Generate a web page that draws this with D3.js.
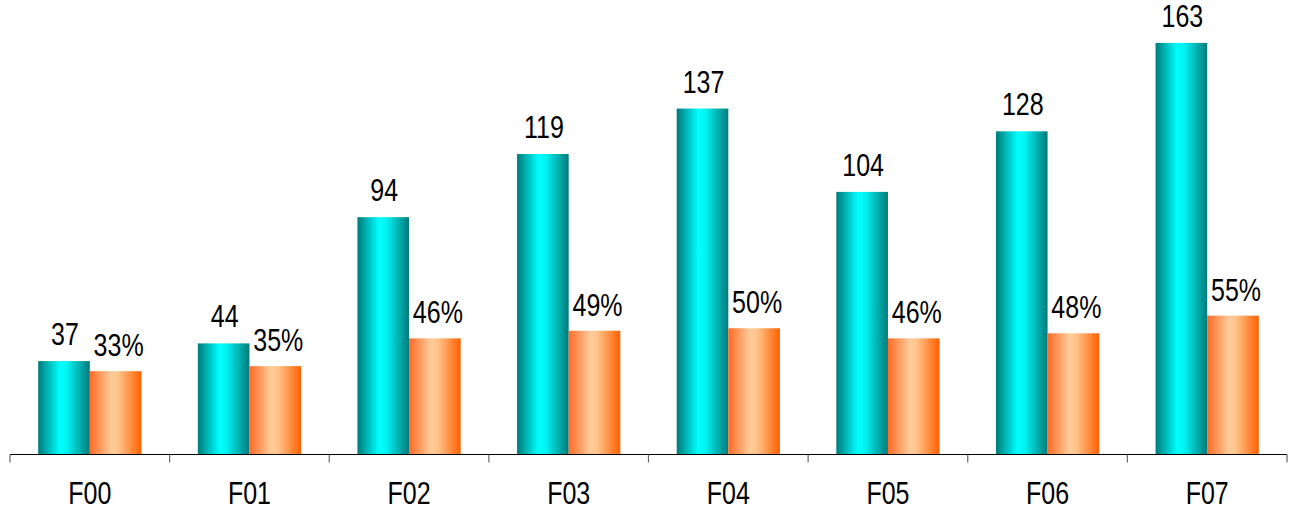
<!DOCTYPE html>
<html>
<head>
<meta charset="utf-8">
<script src="https://cdn.jsdelivr.net/npm/d3@7"></script>
<style>
  body { margin: 0; background: #fff; }
  text { font-family: "Liberation Sans", Arial, sans-serif; }
</style>
</head>
<body>
<script>
var categories = ["F00", "F01", "F02", "F03", "F04", "F05", "F06", "F07"];
var counts = [37, 44, 94, 119, 137, 104, 128, 163];
var percents = [33, 35, 46, 49, 50, 46, 48, 55];

var W = 1291, H = 515;
var baseY = 454.5;
var squeeze = 0.82; // labels in the original are set in a narrow face

var svg = d3.select('body').append('svg')
  .attr('width', W)
  .attr('height', H);

var defs = svg.append('defs');

var tealGrad = defs.append('linearGradient').attr('id', 'teal').attr('x1', '0%').attr('x2', '100%');
tealGrad.append('stop').attr('offset', '0%').attr('stop-color', '#007a7a');
tealGrad.append('stop').attr('offset', '42%').attr('stop-color', '#00ffff');
tealGrad.append('stop').attr('offset', '55%').attr('stop-color', '#00f4f4');
tealGrad.append('stop').attr('offset', '100%').attr('stop-color', '#007a7a');

var orangeGrad = defs.append('linearGradient').attr('id', 'orange').attr('x1', '0%').attr('x2', '100%');
orangeGrad.append('stop').attr('offset', '0%').attr('stop-color', '#ff6a26');
orangeGrad.append('stop').attr('offset', '42%').attr('stop-color', '#ffcc99');
orangeGrad.append('stop').attr('offset', '55%').attr('stop-color', '#ffc48c');
orangeGrad.append('stop').attr('offset', '100%').attr('stop-color', '#ff6000');

var x = d3.scaleBand().domain(categories).range([10, 1287]).paddingInner(0).paddingOuter(0);
var sub = d3.scaleBand().domain(['count', 'pct']).range([0, x.bandwidth()]).paddingInner(0).paddingOuter(0.546);
var y = d3.scaleLinear().domain([0, 180]).range([baseY, 0]);

var groups = svg.selectAll('g.cat').data(categories).enter().append('g')
  .attr('class', 'cat')
  .attr('transform', function(d) { return 'translate(' + x(d) + ',0)'; });

groups.append('rect')
  .attr('x', sub('count'))
  .attr('width', sub.bandwidth())
  .attr('y', function(d, i) { return y(counts[i]); })
  .attr('height', function(d, i) { return baseY - y(counts[i]); })
  .style('fill', 'url(#teal)');

groups.append('rect')
  .attr('x', sub('pct'))
  .attr('width', sub.bandwidth())
  .attr('y', function(d, i) { return y(percents[i]); })
  .attr('height', function(d, i) { return baseY - y(percents[i]); })
  .style('fill', 'url(#orange)');

var narrowText = function(sel, fx, fy, ftext) {
  sel.append('text')
    .attr('transform', function(d, i) {
      return 'translate(' + fx(d, i) + ',' + fy(d, i) + ') scale(' + squeeze + ',1)';
    })
    .attr('text-anchor', 'middle')
    .style('font-size', '30.5px')
    .attr('fill', '#000')
    .text(ftext);
};

narrowText(groups,
  function() { return sub('count') + sub.bandwidth() / 2 + 1; },
  function(d, i) { return y(counts[i]) - 16; },
  function(d, i) { return counts[i]; });

narrowText(groups,
  function() { return sub('pct') + sub.bandwidth() / 2 + 3; },
  function(d, i) { return y(percents[i]) - 15; },
  function(d, i) { return percents[i] + '%'; });

// category labels under the axis
narrowText(groups,
  function() { return x.bandwidth() / 2; },
  function() { return 504; },
  function(d) { return d; });

svg.append('line')
  .attr('x1', 10).attr('x2', 1287)
  .attr('y1', baseY).attr('y2', baseY)
  .attr('stroke', '#000').attr('stroke-width', 1.2);

var bounds = categories.map(function(d) { return x(d); }).concat([x.range()[1]]);
svg.selectAll('line.tick').data(bounds).enter().append('line')
  .attr('class', 'tick')
  .attr('x1', function(d) { return d; }).attr('x2', function(d) { return d; })
  .attr('y1', baseY).attr('y2', baseY + 8)
  .attr('stroke', '#666').attr('stroke-width', 1.2);
</script>
</body>
</html>
